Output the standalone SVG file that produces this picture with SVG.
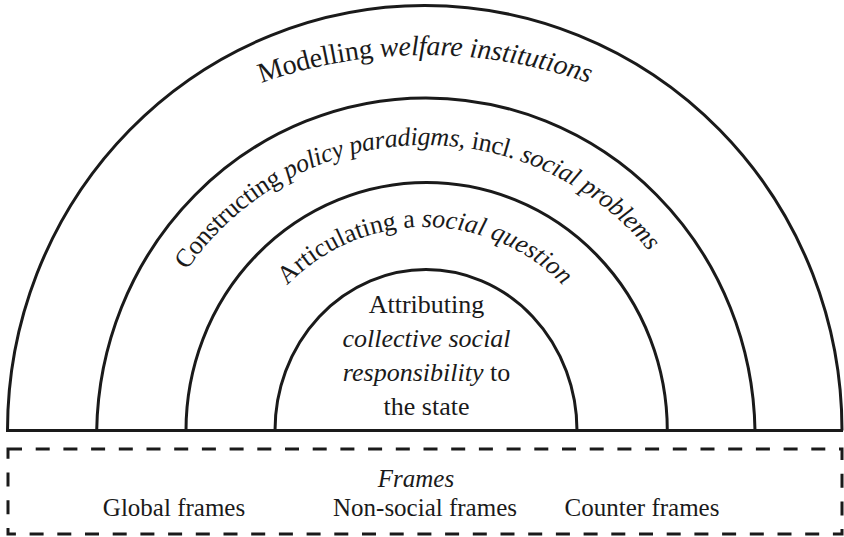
<svg xmlns="http://www.w3.org/2000/svg" xmlns:xlink="http://www.w3.org/1999/xlink" width="844" height="537" viewBox="0 0 844 537">
  <style>
    .arc { fill: none; stroke: #1a1a1a; stroke-width: 3; }
    .base { stroke: #1a1a1a; stroke-width: 3; fill: none; }
    .frame { fill: none; stroke: #1a1a1a; stroke-width: 3; stroke-dasharray: 14 13.7; }
    .txt { font-family: 'Liberation Serif', 'Times New Roman', Times, 'DejaVu Serif', serif; }
    .it { font-style: italic; }
    .lbl { text-anchor: middle; }
  </style>
  <defs>
    <!-- baselines for the curved labels -->
    <path id="p1" d="M -66 546 A 491 491 0 0 1 916 546"/>
    <path id="p2" d="M 136 434 A 289 289 0 0 1 714 434"/>
    <path id="p3" d="M 233 419 A 192 192 0 0 1 617 419"/>
  </defs>

  <g class="txt" fill="#1a1a1a">
    <!-- concentric half rings -->
    <g id="ring-outer">
      <path class="arc" d="M 7.5 430.5 A 417.25 425 0 0 1 842 430.5"/>
      <text class="txt" font-size="28"><textPath xlink:href="#p1" startOffset="50%" text-anchor="middle" textLength="334">Modelling <tspan class="it">welfare institutions</tspan></textPath></text>
    </g>
    <g id="ring-second">
      <path class="arc" d="M 96.7 430.5 A 329.2 338.5 0 0 1 755 430.5"/>
      <text class="txt" font-size="26"><textPath xlink:href="#p2" startOffset="442" text-anchor="middle" textLength="536">Constructing <tspan class="it">policy paradigms,</tspan> incl. <tspan class="it">social problems</tspan></textPath></text>
    </g>
    <g id="ring-third">
      <path class="arc" d="M 186 430.5 A 240.6 248 0 0 1 667.3 430.5"/>
      <text class="txt" font-size="26"><textPath xlink:href="#p3" startOffset="50%" text-anchor="middle" textLength="308">Articulating a <tspan class="it">social question</tspan></textPath></text>
    </g>
    <g id="ring-inner" font-size="26">
      <path class="arc" d="M 275 430.5 A 151 161 0 0 1 577 430.5"/>
      <text class="txt lbl" x="426.5" y="313">Attributing</text>
      <text class="txt lbl it" x="426.5" y="347">collective social</text>
      <text class="txt lbl" x="426.5" y="381"><tspan class="it">responsibility</tspan> to</text>
      <text class="txt lbl" x="426.5" y="415">the state</text>
    </g>

    <!-- ground line -->
    <g id="connectors">
      <line class="base" x1="6" y1="430.5" x2="843" y2="430.5"/>
    </g>

    <!-- frames box -->
    <g id="frames" font-size="25">
      <rect class="frame" x="8" y="449" width="834" height="85"/>
      <text class="txt lbl it" x="416" y="487">Frames</text>
      <text class="txt lbl" x="174" y="516">Global frames</text>
      <text class="txt lbl" x="425" y="516">Non-social frames</text>
      <text class="txt lbl" x="642" y="516">Counter frames</text>
    </g>
  </g>
</svg>
